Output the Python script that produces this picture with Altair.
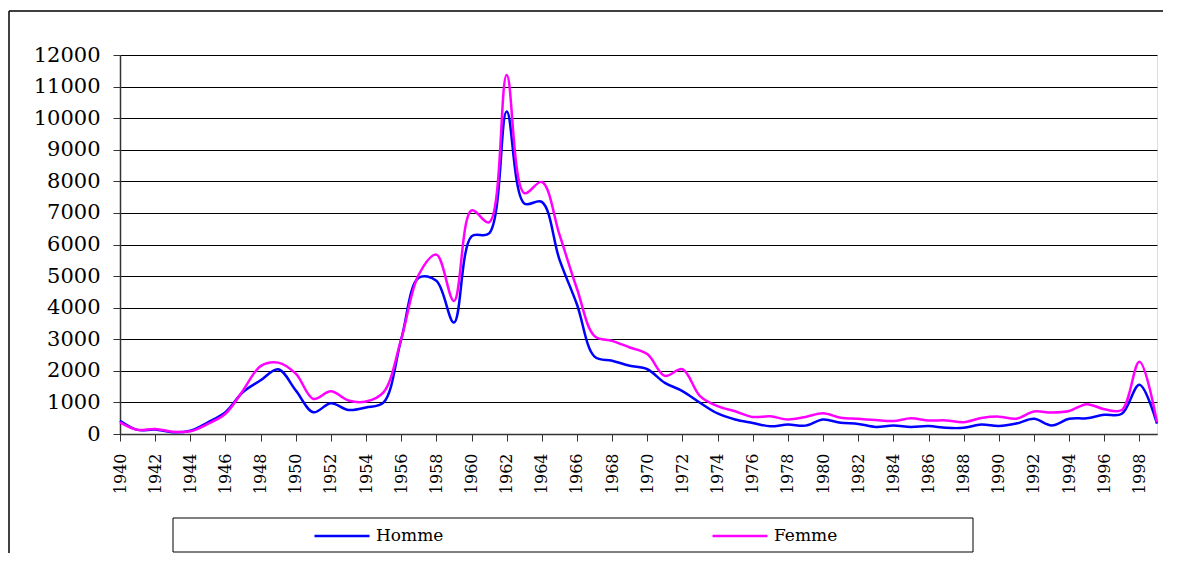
import altair as alt
import pandas as pd

years = list(range(1940, 2000))
homme = [420, 130, 140, 55, 105, 370, 690, 1330, 1700, 2050,
         1380, 690, 975, 760, 840, 1000, 3000, 4950, 4850, 3530,
         6260, 6350, 10210, 7300, 7350, 5530, 4100, 2450, 2320, 2160,
         2050, 1620, 1360, 990, 650, 460, 350, 245, 300, 265,
         460, 355, 320, 225, 270, 225, 250, 195, 195, 300,
         250, 330, 480, 270, 480, 500, 610, 640, 1560, 330]
femme = [370, 130, 160, 75, 85, 320, 640, 1380, 2150, 2260,
         1910, 1110, 1350, 1060, 1030, 1325, 3000, 5050, 5680, 4210,
         7080, 6700, 11370, 7630, 7980, 6320, 4600, 3100, 2950, 2740,
         2530, 1840, 2050, 1200, 880, 720, 540, 560, 460, 540,
         655, 515, 480, 440, 410, 495, 430, 430, 375, 505,
         550, 485, 710, 680, 730, 945, 785, 760, 2290, 375]
series_names = ["Homme", "Femme"]
series_colors = ["#0000FF", "#FF00FF"]
y_ticks = list(range(0, 13000, 1000))
x_ticks = list(range(1940, 1999, 2))

df = pd.DataFrame({
    "Annee": years * 2,
    "Valeur": homme + femme,
    "Serie": ["Homme"] * len(years) + ["Femme"] * len(years),
})
one = pd.DataFrame({"k": [0]})

FONT = "DejaVu Serif"

lines = alt.Chart(df).mark_line(strokeWidth=2.5, interpolate="catmull-rom").encode(
    x=alt.X("Annee:Q",
            scale=alt.Scale(domain=[1940, 1999], nice=False, zero=False),
            axis=alt.Axis(values=x_ticks, format="d", labelAngle=-90, labelAlign="right",
                          labelBaseline="middle", labelFontSize=16, labelPadding=12,
                          tickSize=7, grid=False, title=None, labelFlush=False,
                          labelOverlap=False, domainColor="#333", tickColor="#333",
                          labelColor="#000", labelFont=FONT, domainWidth=1.5)),
    y=alt.Y("Valeur:Q",
            scale=alt.Scale(domain=[0, 12000], nice=False),
            axis=alt.Axis(values=y_ticks, format="d", labelFontSize=21, labelPadding=13,
                          tickSize=7, grid=True, gridColor="#000", gridWidth=1, title=None,
                          labelFlush=False, labelOverlap=False, domainColor="#333",
                          tickColor="#333", labelColor="#000", labelFont=FONT,
                          domainWidth=1.5)),
    color=alt.Color("Serie:N",
                    scale=alt.Scale(domain=series_names, range=series_colors),
                    legend=alt.Legend(orient="none", legendX=193, legendY=452,
                                      direction="horizontal", columns=2, columnPadding=263,
                                      symbolType="stroke", symbolSize=3025,
                                      symbolStrokeWidth=2.5, labelFontSize=17,
                                      labelFont=FONT, labelColor="#000", labelOffset=5,
                                      title=None, padding=0, labelLimit=0)),
)

outer_top = alt.Chart(one).mark_rule(stroke="#000", strokeWidth=1.5).encode(
    x=alt.value(-111), x2=alt.value(1043), y=alt.value(-44)
)
outer_left = alt.Chart(one).mark_rule(stroke="#000", strokeWidth=1.5).encode(
    x=alt.value(-111), y=alt.value(-44), y2=alt.value(498)
)
legend_box = alt.Chart(one).mark_rect(fill="transparent", stroke="#000", strokeWidth=1).encode(
    x=alt.value(53), x2=alt.value(853), y=alt.value(463), y2=alt.value(497)
)

chart = alt.layer(outer_top, outer_left, legend_box, lines).properties(
    width=1037, height=379,
    autosize=alt.AutoSizeParams(type="none"),
    padding={"left": 112, "top": 47, "right": 14, "bottom": 120},
).configure_view(stroke="#808080", strokeWidth=2).configure(background="white", font=FONT)

chart.save("out.html", embed_options={"renderer": "svg", "actions": False})
